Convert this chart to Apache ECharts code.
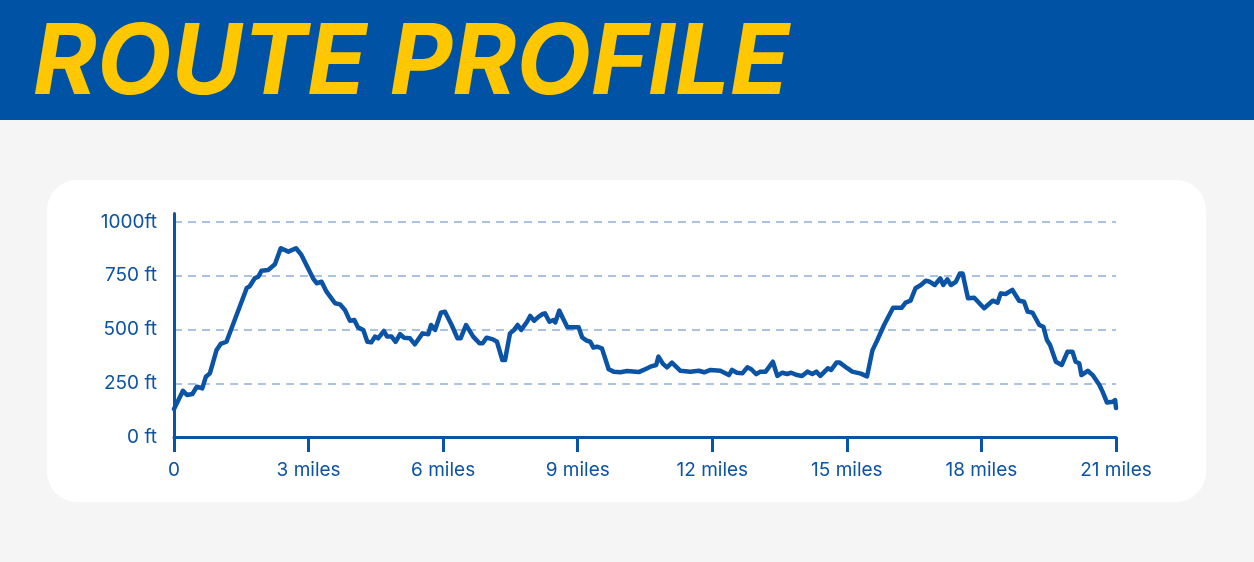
<!DOCTYPE html>
<html><head><meta charset="utf-8">
<script src="https://cdn.jsdelivr.net/npm/echarts@6/dist/echarts.min.js"></script>
<style>html,body{margin:0;padding:0;background:#f5f5f5;overflow:hidden}#c{width:1254px;height:562px}</style>
</head><body><div id="c"></div>
<script>
const titleText = 'ROUTE PROFILE';
const miles = [0,0.2,0.29,0.41,0.51,0.63,0.71,0.8,0.95,1.04,1.17,1.62,1.69,1.8,1.88,1.95,2.1,2.25,2.38,2.55,2.72,2.84,3.1,3.18,3.29,3.4,3.59,3.7,3.81,3.92,4.02,4.1,4.22,4.31,4.4,4.48,4.55,4.68,4.75,4.85,4.94,5.04,5.13,5.26,5.37,5.54,5.67,5.73,5.82,5.95,6.04,6.19,6.32,6.39,6.51,6.67,6.81,6.88,6.97,7.11,7.2,7.32,7.38,7.49,7.58,7.66,7.74,7.87,7.94,8.03,8.13,8.22,8.27,8.37,8.46,8.5,8.59,8.67,8.77,9.02,9.1,9.2,9.28,9.35,9.43,9.54,9.69,9.8,9.95,10.1,10.36,10.47,10.62,10.75,10.8,10.9,10.99,11.1,11.29,11.51,11.7,11.82,11.96,12.18,12.37,12.44,12.55,12.67,12.78,12.87,12.98,13.07,13.19,13.35,13.45,13.56,13.67,13.76,13.89,14.0,14.12,14.23,14.32,14.41,14.58,14.65,14.77,14.84,15.01,15.12,15.31,15.45,15.57,15.68,15.83,16.03,16.22,16.31,16.42,16.53,16.65,16.76,16.85,16.96,17.08,17.15,17.24,17.32,17.43,17.52,17.58,17.7,17.84,18.06,18.25,18.36,18.43,18.54,18.69,18.84,18.95,19.03,19.14,19.29,19.38,19.46,19.53,19.66,19.79,19.92,20.03,20.1,20.18,20.23,20.37,20.48,20.63,20.7,20.8,20.93,20.98,21.0];
const elevation = [130,215,195,200,234,226,280,296,405,433,443,692,702,738,746,773,777,803,878,862,878,847,738,715,722,676,622,617,591,541,544,510,498,443,440,467,459,493,467,467,443,478,462,459,431,482,478,521,498,578,583,521,459,459,521,467,436,436,462,454,443,358,358,482,498,521,498,536,563,541,560,572,575,536,544,533,588,552,510,510,463,448,443,416,420,412,315,304,301,307,302,312,327,335,374,340,324,346,308,304,308,301,312,308,288,312,299,296,324,315,292,304,304,350,284,299,293,299,288,284,304,293,304,284,320,312,346,346,320,304,295,282,403,451,521,601,601,625,634,692,707,727,722,707,738,707,733,707,722,761,761,645,648,599,634,625,668,665,684,634,629,583,578,521,513,451,428,350,335,397,397,350,343,288,308,288,242,211,160,164,172,135];
const xTickValues = [0,3,6,9,12,15,18,21];
const xTickLabels = ['0','3 miles','6 miles','9 miles','12 miles','15 miles','18 miles','21 miles'];
const yTickValues = [0,250,500,750,1000];
const yTickLabels = ['0 ft','250 ft','500 ft','750 ft','1000ft'];

const BLUE = '#0b53a4';
const chart = echarts.init(document.getElementById('c'), null, {renderer:'canvas'});
const data = miles.map((m,i)=>[m, elevation[i]]);
chart.setOption({
  backgroundColor: '#f5f5f5',
  animation: false,
  graphic: [
    {type:'rect', z:-10, shape:{x:0,y:0,width:1254,height:120}, style:{fill:'#0052a5'}},
    {type:'rect', z:-10, shape:{x:47,y:180,width:1159,height:322,r:30}, style:{fill:'#ffffff'}},
    {type:'text', z:-5, x:33, y:65, style:{text:titleText, fill:'#ffc700', fontFamily:'Inter, sans-serif', fontWeight:700, fontStyle:'italic', fontSize:97, verticalAlign:'middle', align:'left'}}
  ],
  grid: {left:174, right:138, top:213.4, bottom:125, containLabel:false},
  xAxis: {
    type:'value', min:0, max:21, interval:3,
    axisLine:{show:true, lineStyle:{color:BLUE, width:3}},
    axisTick:{show:true, length:15, lineStyle:{color:BLUE, width:3}},
    axisLabel:{color:BLUE, fontSize:19, fontFamily:'Inter, sans-serif', margin:24,
      formatter:(v)=>{const i=xTickValues.indexOf(v); return i>=0?xTickLabels[i]:'';}},
    splitLine:{show:false}
  },
  yAxis: {
    type:'value', min:0, max:1040, interval:250,
    axisLine:{show:true, lineStyle:{color:BLUE, width:3}},
    axisTick:{show:false},
    axisLabel:{color:BLUE, fontSize:19, fontFamily:'Inter, sans-serif', margin:17, showMaxLabel:false,
      formatter:(v)=>{const i=yTickValues.indexOf(v); return i>=0?yTickLabels[i]:'';}},
    splitLine:{show:true, showMinLine:false, showMaxLine:false, lineStyle:{color:'#8fb0da', width:1.5, type:[8,6]}}
  },
  series: [{
    type:'line', data:data, showSymbol:false, symbol:'none', smooth:false,
    lineStyle:{color:BLUE, width:4.5, join:'round', cap:'round'}, z:5
  }]
});
</script></body></html>
